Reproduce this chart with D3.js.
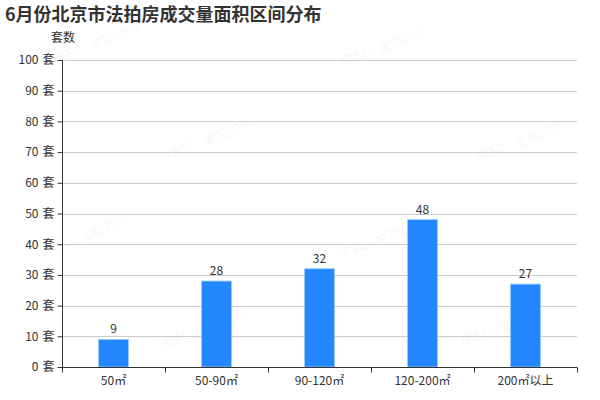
<!DOCTYPE html>
<html><head><meta charset="utf-8">
<script src="https://cdn.jsdelivr.net/npm/d3@7/dist/d3.min.js"></script>
<style>body{margin:0;background:#fff;font-family:"Microsoft YaHei","Noto Sans CJK SC",sans-serif;}</style>
</head><body><svg id="c" width="600" height="400"></svg>
<script>
const categories = ["50㎡","50-90㎡","90-120㎡","120-200㎡","200㎡以上"];
const values = [9, 28, 32, 48, 27];
const yTicks = [0,10,20,30,40,50,60,70,80,90,100];
const yUnit = "套";
const title = "6月份北京市法拍房成交量面积区间分布";
const yName = "套数";
const watermarks = [[95,45],[383,48],[209,140],[518,143],[85,237],[380,240],[203,330],[503,327]];

const svg = d3.select("#c");
const m = {l:62, r:577, t:60, b:367};
const x = d3.scaleBand().domain(categories).range([m.l, m.r]);
const y = d3.scaleLinear().domain([0,100]).range([m.b, m.t]);
const font = '"Microsoft YaHei","Noto Sans CJK SC",sans-serif';

// watermarks
svg.append("g").selectAll("text").data(watermarks).join("text")
  .attr("transform", d => `translate(${d[0]},${d[1]}) rotate(-20)`)
  .attr("text-anchor","middle").attr("dominant-baseline","middle")
  .attr("font-size",13).attr("font-weight","bold").attr("font-family",font)
  .attr("fill","#000").attr("fill-opacity",0.035)
  .text("JBSC | 金铂顾问");

// grid
svg.append("g").selectAll("line").data(yTicks.slice(1)).join("line")
  .attr("x1", m.l).attr("x2", m.r).attr("y1", d => Math.round(y(d))+0.5).attr("y2", d => Math.round(y(d))+0.5)
  .attr("stroke","#ccc");

// bars
const bw = 30;
svg.append("g").selectAll("rect").data(values).join("rect")
  .attr("x", (d,i) => x(categories[i]) + x.bandwidth()/2 - bw/2)
  .attr("width", bw)
  .attr("y", d => y(d))
  .attr("height", d => m.b - y(d))
  .attr("fill","#2388ff").attr("stroke","#9ccaff").attr("stroke-width",0.8);

svg.append("g").selectAll("text").data(values).join("text")
  .attr("x", (d,i) => x(categories[i]) + x.bandwidth()/2)
  .attr("y", d => y(d) - 6)
  .attr("text-anchor","middle").attr("font-size",12).attr("font-family",font).attr("fill","#333")
  .text(d => d);

// y axis
const ya = svg.append("g").attr("transform",`translate(${m.l+0.5},0)`)
  .call(d3.axisLeft(y).tickValues(yTicks).tickSize(5).tickPadding(3).tickFormat(d => d));
ya.select(".domain").attr("stroke","#333").attr("d",`M0,${m.t}V${m.b}`);
ya.selectAll(".tick line").attr("stroke","#333");
ya.selectAll(".tick text").attr("font-size",12).attr("font-family",font).attr("fill","#333")
  .each(function(d){ const t = d3.select(this); t.text(null);
    t.append("tspan").text(d);
    t.append("tspan").attr("dx",4).text(yUnit); });

// x axis
const xa = svg.append("g").attr("transform",`translate(0,${m.b+0.5})`)
  .call(d3.axisBottom(x).tickSize(0).tickPadding(9));
xa.select(".domain").attr("stroke","#333").attr("d",`M${m.l},0H${m.r}`);
xa.selectAll(".tick text").attr("font-size",12).attr("font-family",font).attr("fill","#333");
const bounds = categories.map(c => x(c)).concat([m.r]);
xa.append("g").selectAll("line").data(bounds).join("line")
  .attr("x1", d => Math.round(d)+0.5).attr("x2", d => Math.round(d)+0.5).attr("y1",0).attr("y2",5).attr("stroke","#333");

// title & y name
svg.append("text").attr("x",5).attr("y",21).attr("font-size",18).attr("font-weight","bold")
  .attr("font-family",font).attr("fill","#333").text(title);
svg.append("text").attr("x",63).attr("y",42).attr("text-anchor","middle").attr("font-size",12)
  .attr("font-family",font).attr("fill","#333").text(yName);
</script></body></html>
